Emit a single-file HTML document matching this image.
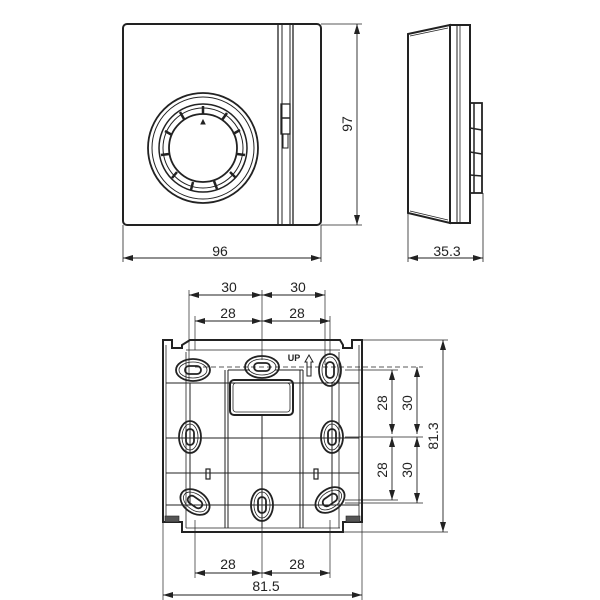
<!DOCTYPE html>
<html><head><meta charset="utf-8"><style>
html,body{margin:0;padding:0;background:#fff;}
svg{display:block;}
text{font-family:"Liberation Sans",Arial,sans-serif;fill:#222;}
</style></head><body>
<svg width="600" height="600" viewBox="0 0 600 600" xmlns="http://www.w3.org/2000/svg">
<defs>
<marker id="a" viewBox="0 0 10 6" refX="10" refY="3" markerWidth="10" markerHeight="6" orient="auto-start-reverse" markerUnits="userSpaceOnUse"><path d="M0,0 L10,3 L0,6 z" fill="#222"/></marker>
</defs>
<g fill="none" stroke="#222">
<!-- FRONT VIEW -->
<rect x="123" y="24" width="198" height="201" rx="4" stroke-width="2"/>
<line x1="278" y1="24" x2="278" y2="225" stroke-width="1.3"/>
<line x1="282" y1="24" x2="282" y2="225" stroke-width="1"/>
<line x1="290" y1="24" x2="290" y2="225" stroke-width="1"/>
<line x1="293" y1="24" x2="293" y2="225" stroke-width="1.3"/>
<rect x="281" y="104" width="9" height="30" stroke-width="1.3"/>
<line x1="281" y1="118" x2="290" y2="118" stroke-width="1.5"/>
<rect x="283" y="134" width="5" height="14" stroke-width="1"/>
<circle cx="203" cy="148" r="55" stroke-width="1.8"/>
<circle cx="203" cy="148" r="51" stroke-width="1"/>
<circle cx="203" cy="148" r="44" stroke-width="1.5"/>
<circle cx="203" cy="148" r="40" stroke-width="1"/>
<circle cx="203" cy="148" r="34" stroke-width="1.8"/>
<g stroke-width="2.5">
<line x1="203" y1="106" x2="203" y2="114"/>
<line x1="227" y1="113" x2="222" y2="120"/>
<line x1="240" y1="130" x2="233" y2="134"/>
<line x1="245" y1="155" x2="237" y2="154"/>
<line x1="236" y1="178" x2="230" y2="172"/>
<line x1="217" y1="189" x2="214" y2="181"/>
<line x1="191" y1="190" x2="193" y2="182"/>
<line x1="172" y1="178" x2="177" y2="172"/>
<line x1="161" y1="155" x2="169" y2="154"/>
<line x1="165" y1="131" x2="172" y2="135"/>
<line x1="180" y1="112" x2="184" y2="119"/>
</g>
<path d="M201,124 L203,120 L205,124 z" fill="#222" stroke-width="1"/>
<!-- front dims -->
<g stroke-width="0.8">
<line x1="321" y1="24" x2="362" y2="24"/><line x1="321" y1="225" x2="362" y2="225"/>
<line x1="123" y1="225" x2="123" y2="262"/><line x1="321" y1="225" x2="321" y2="262"/>
</g>
<line x1="357" y1="24" x2="357" y2="225" stroke-width="0.9" marker-start="url(#a)" marker-end="url(#a)"/>
<line x1="123" y1="258" x2="321" y2="258" stroke-width="0.9" marker-start="url(#a)" marker-end="url(#a)"/>
<!-- SIDE VIEW -->
<path d="M408,34 L450,25 L450,223 L408,213 Z" stroke-width="2"/>
<path d="M410,36 L448,28 M410,211 L448,220" stroke-width="0.8"/>
<rect x="450" y="25" width="20" height="198" stroke-width="2"/>
<line x1="457" y1="25" x2="457" y2="223" stroke-width="1"/>
<line x1="460" y1="25" x2="460" y2="223" stroke-width="0.8"/>
<rect x="470" y="103" width="12" height="90" stroke-width="1.8"/>
<path d="M470,128 L482,130 M470,152 L482,154 M470,175 L482,176 M474,103 L474,193" stroke-width="1.5"/>
<g stroke-width="0.8"><line x1="408" y1="213" x2="408" y2="262"/><line x1="483" y1="193" x2="483" y2="262"/></g>
<line x1="408" y1="258" x2="483" y2="258" stroke-width="0.9" marker-start="url(#a)" marker-end="url(#a)"/>

<!-- BACK VIEW -->
<path d="M163,522 L163,340 L172,340 L172,348 L182,348 L182,345 L190,340 L340,340 L343,345 L343,348 L352,348 L352,340 L362,340 L362,522 L343,522 L343,532 L182,532 L182,522 Z" stroke-width="2"/>
<path d="M166,522 L166,345 M359,522 L359,345" stroke-width="0.8"/>
<rect x="165" y="516" width="14" height="6" fill="#555" stroke-width="0.6"/>
<rect x="346" y="516" width="14" height="6" fill="#555" stroke-width="0.6"/>
<path d="M186,350 L340,350 M186,528 L340,528 M186,352 L186,528 M339,352 L339,528" stroke-width="0.8"/>
<!-- grid -->
<g stroke-width="1">
<line x1="166" y1="383" x2="359" y2="383"/>
<line x1="166" y1="438" x2="359" y2="438"/>
<line x1="166" y1="473" x2="359" y2="473"/>
<line x1="166" y1="505" x2="359" y2="505"/>
<line x1="225" y1="370" x2="225" y2="528"/>
<line x1="228" y1="370" x2="228" y2="528"/>
<line x1="300" y1="370" x2="300" y2="528"/>
<line x1="303" y1="370" x2="303" y2="528"/>
<line x1="262" y1="415" x2="262" y2="528"/>
<line x1="190" y1="383" x2="190" y2="505"/>
<line x1="332" y1="383" x2="332" y2="505"/>
<path d="M228,370 L250,370 M275,370 L303,370" />
</g>
<rect x="230" y="380" width="63" height="35" rx="4" stroke-width="2"/>
<rect x="233" y="383" width="57" height="29" rx="3" stroke-width="0.8"/>
<!-- holes -->
<g stroke-width="1.8">
<g transform="translate(193,370)"><ellipse rx="17" ry="11"/><ellipse rx="14" ry="8" stroke-width="0.8"/><rect x="-8" y="-4" width="16" height="8" rx="4"/></g>
<g transform="translate(262,367)"><ellipse rx="17" ry="11"/><ellipse rx="14" ry="8" stroke-width="0.8"/><rect x="-8" y="-4" width="16" height="8" rx="4"/></g>
<g transform="translate(330,370)"><ellipse rx="11" ry="16"/><ellipse rx="8" ry="13" stroke-width="0.8"/><rect x="-4" y="-8" width="8" height="16" rx="4"/></g>
<g transform="translate(190,437)"><ellipse rx="11" ry="16"/><ellipse rx="8" ry="13" stroke-width="0.8"/><rect x="-4" y="-8" width="8" height="16" rx="4"/></g>
<g transform="translate(332,437)"><ellipse rx="11" ry="16"/><ellipse rx="8" ry="13" stroke-width="0.8"/><rect x="-4" y="-8" width="8" height="16" rx="4"/></g>
<g transform="translate(195,502) rotate(35)"><ellipse rx="16" ry="11"/><ellipse rx="13" ry="8" stroke-width="0.8"/><rect x="-8" y="-4" width="16" height="8" rx="4"/></g>
<g transform="translate(262,505)"><ellipse rx="11" ry="16"/><ellipse rx="8" ry="13" stroke-width="0.8"/><rect x="-4" y="-8" width="8" height="16" rx="4"/></g>
<g transform="translate(330,500) rotate(-35)"><ellipse rx="16" ry="11"/><ellipse rx="13" ry="8" stroke-width="0.8"/><rect x="-8" y="-4" width="16" height="8" rx="4"/></g>
</g>
<rect x="206" y="469" width="4" height="10" stroke-width="1.2"/>
<rect x="314" y="469" width="4" height="10" stroke-width="1.2"/>
<path d="M307,376 L307,362 L305,362 L309,355 L313,362 L311,362 L311,376 Z" stroke-width="1"/>
<!-- back dims -->
<g stroke-width="0.7">
<line x1="189" y1="290" x2="189" y2="380"/><line x1="262" y1="290" x2="262" y2="360"/><line x1="325" y1="290" x2="325" y2="365"/>
<line x1="195" y1="316" x2="195" y2="350"/><line x1="330" y1="316" x2="330" y2="355"/>
<line x1="195" y1="520" x2="195" y2="578"/><line x1="262" y1="520" x2="262" y2="578"/><line x1="330" y1="520" x2="330" y2="578"/>
<line x1="163" y1="522" x2="163" y2="600"/><line x1="362" y1="522" x2="362" y2="600"/>
<line x1="362" y1="340" x2="448" y2="340"/><line x1="343" y1="532" x2="448" y2="532"/>
<line x1="195" y1="367" x2="423" y2="367" stroke-dasharray="5,3"/>
<line x1="345" y1="437" x2="423" y2="437"/>
<line x1="345" y1="503" x2="423" y2="503"/>
<line x1="345" y1="370" x2="398" y2="370"/>
<line x1="345" y1="500" x2="398" y2="500"/>
</g>
<g stroke-width="0.9">
<line x1="189" y1="295" x2="262" y2="295" marker-start="url(#a)" marker-end="url(#a)"/>
<line x1="262" y1="295" x2="325" y2="295" marker-start="url(#a)" marker-end="url(#a)"/>
<line x1="195" y1="321" x2="262" y2="321" marker-start="url(#a)" marker-end="url(#a)"/>
<line x1="262" y1="321" x2="330" y2="321" marker-start="url(#a)" marker-end="url(#a)"/>
<line x1="195" y1="573" x2="262" y2="573" marker-start="url(#a)" marker-end="url(#a)"/>
<line x1="262" y1="573" x2="330" y2="573" marker-start="url(#a)" marker-end="url(#a)"/>
<line x1="163" y1="595" x2="362" y2="595" marker-start="url(#a)" marker-end="url(#a)"/>
<line x1="392" y1="370" x2="392" y2="434" marker-start="url(#a)" marker-end="url(#a)"/>
<line x1="392" y1="437" x2="392" y2="500" marker-start="url(#a)" marker-end="url(#a)"/>
<line x1="417" y1="367" x2="417" y2="434" marker-start="url(#a)" marker-end="url(#a)"/>
<line x1="417" y1="437" x2="417" y2="503" marker-start="url(#a)" marker-end="url(#a)"/>
<line x1="443" y1="340" x2="443" y2="532" marker-start="url(#a)" marker-end="url(#a)"/>
</g>
</g>
<g font-size="14" text-anchor="middle">
<text x="220" y="256">96</text>
<text x="447" y="256">35.3</text>
<text transform="translate(352,124) rotate(-90)">97</text>
<text x="229" y="292">30</text>
<text x="298" y="292">30</text>
<text x="228" y="318">28</text>
<text x="297" y="318">28</text>
<text x="228" y="569">28</text>
<text x="297" y="569">28</text>
<text x="266" y="591">81.5</text>
<text transform="translate(387,403) rotate(-90)">28</text>
<text transform="translate(387,470) rotate(-90)">28</text>
<text transform="translate(412,403) rotate(-90)">30</text>
<text transform="translate(412,470) rotate(-90)">30</text>
<text transform="translate(438,436) rotate(-90)">81.3</text>
</g>
<text x="294" y="361" font-size="9" font-weight="bold" text-anchor="middle">UP</text>
</svg>
</body></html>
